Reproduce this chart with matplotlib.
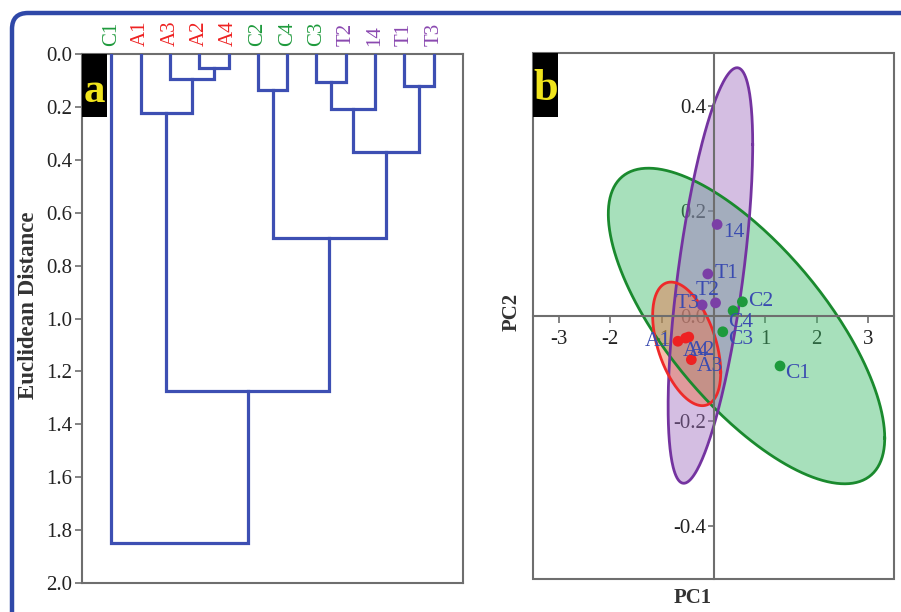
import numpy as np
import matplotlib.pyplot as plt
from matplotlib.patches import Rectangle, FancyBboxPatch, Polygon
from matplotlib.transforms import IdentityTransform

plt.rcParams['font.family'] = ['Liberation Serif', 'DejaVu Serif']

# ---- data: dendrogram (panel a) ----
leaves = ['C1', 'A1', 'A3', 'A2', 'A4', 'C2', 'C4', 'C3', 'T2', '14', 'T1', 'T3']
# merges refer to leaf index (0..11) or earlier merge (12 + k)
merge_left = [3, 2, 1, 5, 7, 16, 10, 17, 15, 14, 0]
merge_right = [4, 12, 13, 6, 8, 9, 11, 18, 19, 20, 21]
merge_height = [0.053, 0.095, 0.222, 0.135, 0.105, 0.207, 0.12, 0.37, 0.697, 1.275, 1.848]

# ---- data: PCA scores (panel b) ----
names = ['C1', 'C2', 'C3', 'C4', 'A1', 'A2', 'A3', 'A4', 'T1', 'T2', 'T3', '14']
pc1 = [1.29, 0.56, 0.18, 0.38, -0.69, -0.48, -0.43, -0.54, -0.11, 0.04, -0.22, 0.07]
pc2 = [-0.095, 0.027, -0.030, 0.010, -0.048, -0.040, -0.083, -0.042, 0.080, 0.025, 0.021, 0.174]
groups = ['C', 'C', 'C', 'C', 'A', 'A', 'A', 'A', 'T', 'T', 'T', 'T']

# group ellipses: centre, half-extent on each axis, correlation
ell_groups = ['C', 'T', 'A']
ell_cx = [0.64, -0.06, -0.52]
ell_cy = [-0.019, 0.077, -0.053]
ell_sx = [2.68, 0.82, 0.66]
ell_sy = [0.30, 0.395, 0.1175]
ell_rho = [-0.71, 0.63, -0.46]

col = {'C': '#1e9a3c', 'A': '#ee2222', 'T': '#7b3fa6'}
fill = {'C': '#3dbb68', 'A': '#f07048', 'T': '#a070c0'}
edge = {'C': '#1a8a2e', 'A': '#ee2a2a', 'T': '#7433a0'}
dcol = '#3d4fb3'
lblue = '#3a4bb0'
gray = '#6e6e6e'

fig = plt.figure(figsize=(9.01, 6.12), dpi=100)

# outer rounded border
fig.patches.append(FancyBboxPatch((12, -30), 940, 629, boxstyle='round,pad=0,rounding_size=16',
                                  transform=IdentityTransform(), fill=False,
                                  edgecolor='#2f48a8', linewidth=3.2))

# ================= panel a =================
ax = fig.add_axes([82 / 901, 1 - 583 / 612, 381 / 901, 529 / 612])
xpos = {i: float(i) for i in range(len(leaves))}
ypos = {i: 0.0 for i in range(len(leaves))}
for k, (l, r, h) in enumerate(zip(merge_left, merge_right, merge_height)):
    xl, xr = xpos[l], xpos[r]
    ax.plot([xl, xl, xr, xr], [ypos[l], h, h, ypos[r]], color=dcol, lw=2.3,
            solid_joinstyle='miter', zorder=3)
    xpos[12 + k] = (xl + xr) / 2
    ypos[12 + k] = h

ax.set_xlim(-1, len(leaves))
ax.set_ylim(2.0, 0.0)
ax.set_yticks(np.arange(0, 2.01, 0.2))
ax.set_yticklabels(['%.1f' % v for v in np.arange(0, 2.01, 0.2)], fontsize=15, color='#222222')
ax.set_xticks([])
ax.tick_params(axis='y', direction='out', length=5, width=1.2, color=gray, pad=2)
for s in ax.spines.values():
    s.set_color(gray)
    s.set_linewidth(1.5)
fig.text(29 / 901, 1 - 305 / 612, 'Euclidean Distance', rotation=90, ha='center', va='center',
         fontsize=16.5, fontweight='bold', color='#333333')

tr = ax.get_xaxis_transform()
for i, name in enumerate(leaves):
    g = 'C' if name.startswith('C') else ('A' if name.startswith('A') else 'T')
    ax.text(i, 1.016, name, transform=tr, rotation=90, ha='center', va='bottom',
            fontsize=15, color=col[g] if g != 'T' else '#8a48b0')

ax.add_patch(Rectangle((0, 1 - 63 / 529), 25 / 381, 63 / 529, transform=ax.transAxes,
                       facecolor='black', edgecolor='none', clip_on=False, zorder=5))
ax.text(12.5 / 381, 1 - 38 / 529, 'a', transform=ax.transAxes, ha='center', va='center',
        fontsize=31, fontweight='bold', color='#f0e41c', zorder=6)

# ================= panel b =================
bx = fig.add_axes([533 / 901, 1 - 579 / 612, 361 / 901, 526 / 612])
bx.set_xlim(-3.5, 3.5)
bx.set_ylim(-0.5, 0.5)

t = np.linspace(0, 2 * np.pi, 300)
for g, cx, cy, sx, sy, r in zip(ell_groups, ell_cx, ell_cy, ell_sx, ell_sy, ell_rho):
    ex = cx + sx * np.cos(t)
    ey = cy + sy * (r * np.cos(t) + np.sqrt(1 - r ** 2) * np.sin(t))
    bx.add_patch(Polygon(np.column_stack([ex, ey]), closed=True, facecolor=fill[g],
                         alpha=0.45, edgecolor='none', zorder=2))
    bx.plot(ex, ey, color=edge[g], lw=2.0, zorder=3)

for n, x, y, g in zip(names, pc1, pc2, groups):
    bx.scatter(x, y, s=60, color=col[g], edgecolors='none', zorder=5)

label_off = {'C1': (5, -8, 'left'), 'C2': (6, 0, 'left'), 'C3': (5, -8, 'left'),
             'C4': (-5, -12, 'left'), 'A1': (-7, 0, 'right'), 'A2': (0, -13, 'left'),
             'A3': (5, -7, 'left'), 'A4': (-3, -13, 'left'), 'T1': (7, 0, 'left'),
             'T2': (-8, 12, 'center'), 'T3': (-3, 1, 'right'), '14': (6, -8, 'left')}
for n, x, y in zip(names, pc1, pc2):
    dx, dy, ha = label_off[n]
    bx.annotate(n, (x, y), xytext=(dx * 0.72, dy * 0.72), textcoords='offset points',
                ha=ha, va='center', fontsize=15.5, color=lblue, zorder=6)

bx.spines['left'].set_position(('data', 0))
bx.spines['bottom'].set_position(('data', 0))
bx.spines['top'].set_visible(False)
bx.spines['right'].set_visible(False)
for s in ['left', 'bottom']:
    bx.spines[s].set_color(gray)
    bx.spines[s].set_linewidth(1.5)
    bx.spines[s].set_zorder(4)
bx.add_patch(Rectangle((0, 0), 1, 1, transform=bx.transAxes, fill=False,
                       edgecolor=gray, linewidth=1.5, clip_on=False, zorder=4))

bx.set_xticks([-3, -2, -1, 1, 2, 3])
bx.set_xticklabels(['-3', '-2', '-1', '1', '2', '3'], fontsize=15, color='#222222')
bx.set_yticks([-0.4, -0.2, 0.0, 0.2, 0.4])
bx.set_yticklabels(['-0.4', '-0.2', '0.0', '0.2', '0.4'], fontsize=15, color='#222222')
bx.tick_params(axis='x', direction='out', length=5, width=1.2, color=gray, pad=5)
bx.tick_params(axis='y', direction='out', length=4, width=1.2, color=gray, pad=1)

fig.text(512 / 901, 1 - 312 / 612, 'PC2', rotation=90, ha='center', va='center',
         fontsize=15, fontweight='bold', color='#333333')
fig.text(693 / 901, 1 - 598 / 612, 'PC1', ha='center', va='center',
         fontsize=15, fontweight='bold', color='#333333')

bx.add_patch(Rectangle((0, 1 - 64 / 526), 25 / 361, 64 / 526, transform=bx.transAxes,
                       facecolor='black', edgecolor='none', clip_on=False, zorder=7))
bx.text(12.5 / 361, 1 - 36 / 526, 'b', transform=bx.transAxes, ha='center', va='center',
        fontsize=32, fontweight='bold', color='#f0e41c', zorder=8)

fig.savefig('out.png', dpi=100)
